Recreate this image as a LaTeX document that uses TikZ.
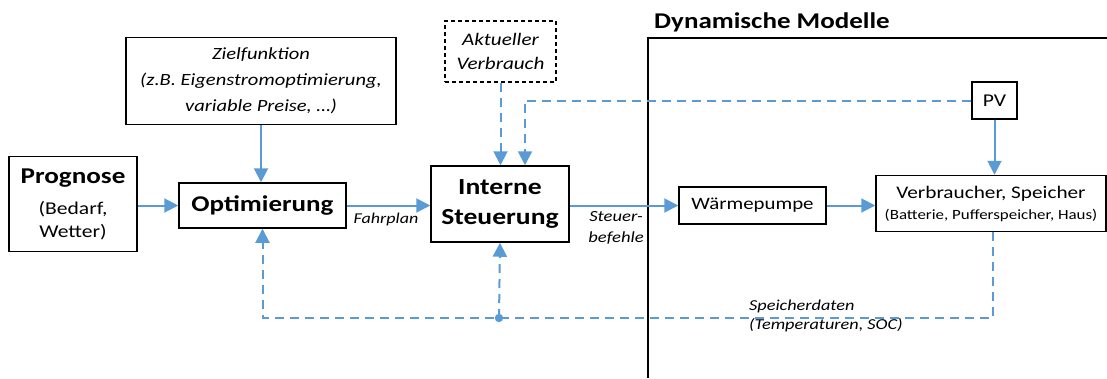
\documentclass[tikz,border=0pt]{standalone}
\usepackage{fontspec}
\setmainfont{Carlito}[FakeStretch=1.2]
\usetikzlibrary{arrows.meta}
\definecolor{lb}{HTML}{5B9BD5}
\begin{document}
\begin{tikzpicture}[x=1pt,y=-1pt,
  box/.style={draw,line width=1.5pt,inner sep=0pt,align=center},
  flow/.style={lb,line width=2pt,-{Triangle[width=14pt,length=14pt]}},
  dflow/.style={flow,dash pattern=on 9pt off 6pt},
  lbl/.style={inner sep=0pt,font=\fontsize{15}{21}\selectfont\itshape}]
\useasboundingbox (0,0) rectangle (1107,378);
% frame of dynamic models
\draw[line width=1.5pt] (1107,38) -| (648,378);
\node[anchor=base west,inner sep=0pt,font=\fontsize{22.5}{26}\selectfont\bfseries] (dm) at (654,28) {Dynamische Modelle};
% boxes
\node[box,minimum width=128pt,minimum height=95pt,font=\fontsize{18}{23}\selectfont] (prog) at (73,204)
  {{\fontsize{22.6}{23}\selectfont\bfseries Prognose}\\[8pt](Bedarf,\\Wetter)};
\node[box,minimum width=167pt,minimum height=45pt,font=\fontsize{22.5}{28}\selectfont\bfseries] (opt) at (262.5,205.5) {Optimierung};
\node[box,minimum width=270pt,minimum height=87pt,font=\fontsize{17.1}{26}\selectfont\itshape] (ziel) at (261,81)
  {Zielfunktion\\(z.B. Eigenstromoptimierung,\\variable Preise, \dots)};
\node[box,line width=1.3pt,dash pattern=on 4pt off 3pt,minimum width=111pt,minimum height=61pt,font=\fontsize{17.6}{23.5}\selectfont\itshape] (akt) at (500.5,51.5)
  {Aktueller\\Verbrauch};
\node[box,minimum width=138pt,minimum height=76pt,font=\fontsize{23}{30}\selectfont\bfseries] (int) at (500,204)
  {Interne\\Steuerung};
\node[box,minimum width=45pt,minimum height=37pt,font=\fontsize{18}{20}\selectfont] (pv) at (994.5,100.5) {PV};
\node[box,minimum width=147pt,minimum height=37pt,font=\fontsize{17.4}{20}\selectfont] (wp) at (752.5,205.5) {Wärmepumpe};
\node[box,minimum width=230pt,minimum height=56pt,font=\fontsize{14.1}{21}\selectfont] (verb) at (991,203.5)
  {{\fontsize{17.7}{21}\selectfont Verbraucher, Speicher}\\(Batterie, Pufferspeicher, Haus)};
% solid connectors
\draw[flow] (opt.west -| prog.east) -- (opt.west);
\draw[flow] (opt.east) -- (opt.east -| int.west);
\draw[flow] (ziel.south) -- (ziel.south |- opt.north);
\draw[flow] (wp.west -| int.east) -- (wp.west);
\draw[flow] (wp.east) -- (wp.east -| verb.west);
\draw[flow] (pv.south) -- (pv.south |- verb.north);
% dashed connectors
\draw[dflow] (akt.south) -- (akt.south |- int.north);
\coordinate (pvin) at ([xshift=25pt]int.north);
\draw[dflow] (pv.west) -| (pvin);
\coordinate (fb) at (499,318);
\coordinate (vs) at ([xshift=2pt]verb.south);
\draw[dflow] (vs) |- (opt.south |- fb) -- (opt.south);
\draw[dflow] (fb) -- (int.south);
\fill[lb] (fb) circle (4.2pt);
% labels
\node[lbl,font=\fontsize{15}{21}\selectfont\itshape] (fp) at (386,219) {Fahrplan};
\node[lbl,align=center,font=\fontsize{15.5}{21}\selectfont\itshape] (sb) at (616,228) {Steuer-\\befehle};
\node[lbl,anchor=west,align=left,font=\fontsize{15.2}{19.5}\selectfont\itshape] (sd) at (749,316) {Speicherdaten\\(Temperaturen, SOC)};
\end{tikzpicture}
\end{document}
